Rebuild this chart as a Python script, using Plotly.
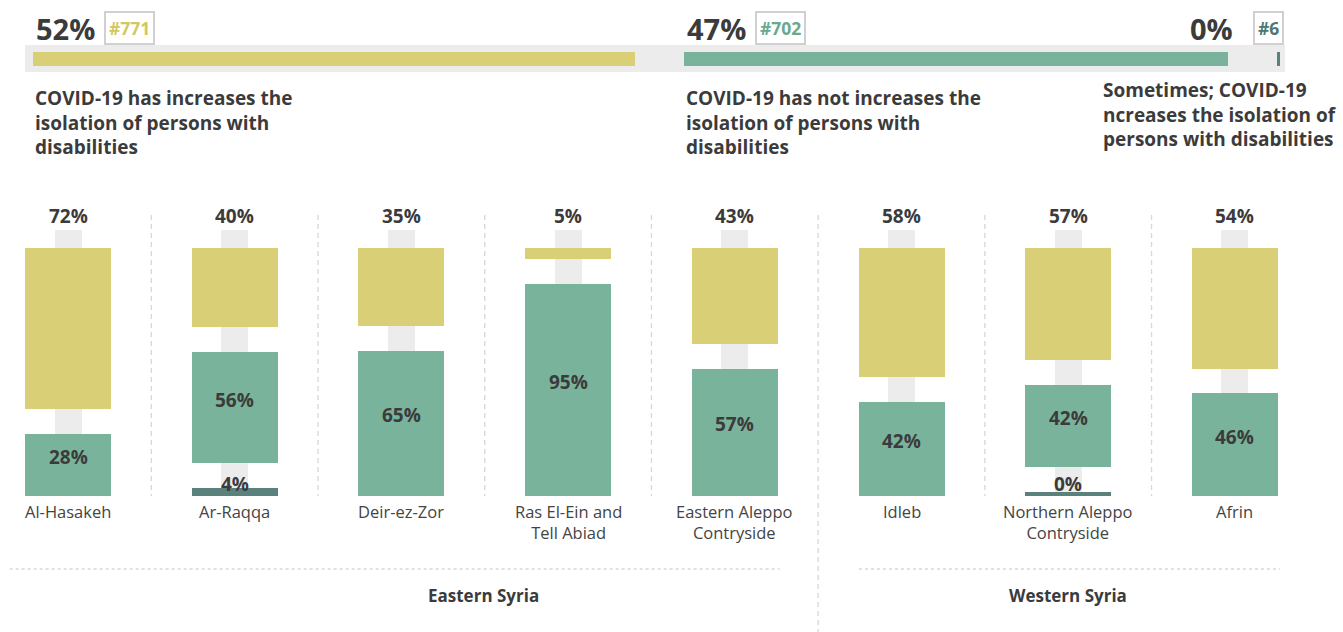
import plotly.graph_objects as go

# ---- overall answers (top strip) ----
answer_labels = [
    "COVID-19 has increases the<br>isolation of persons with<br>disabilities",
    "COVID-19 has not increases the<br>isolation of persons with<br>disabilities",
    "Sometimes; COVID-19<br>ncreases the isolation of<br>persons with disabilities",
]
answer_pct = [52, 47, 0]
answer_count = [771, 702, 6]

# ---- breakdown by area ----
areas = [
    "Al-Hasakeh", "Ar-Raqqa", "Deir-ez-Zor", "Ras El-Ein and<br>Tell Abiad",
    "Eastern Aleppo<br>Contryside", "Idleb", "Northern Aleppo<br>Contryside", "Afrin",
]
pct_yes = [72, 40, 35, 5, 43, 58, 57, 54]
pct_no = [28, 56, 65, 95, 57, 42, 42, 46]
pct_sometimes = [None, 4, None, None, None, None, 0, None]

regions = ["Eastern Syria", "Western Syria"]
region_of_area = [0, 0, 0, 0, 0, 1, 1, 1]

# ---- styling ----
W, H = 1343, 632
YELLOW = "#d9cf77"
GREEN = "#79b39c"
DARK = "#5b817c"
STRIP = "#ececec"
TEXT = "#3b3b3b"
FONT = "Open Sans"
answer_colors = [YELLOW, GREEN, DARK]
badge_colors = ["#d2c765", "#6aa98f", "#4f7874"]

fig = go.Figure()

# Panel axes: one unit in x = one area column, y in percent of the column height
PX0, PXSTEP = 68, 166.7          # centre of first column, column pitch (px)
PY0, PYUNIT = 248, 2.48          # top of stack (px), px per percent
xr = [(0 - PX0) / PXSTEP, (W - PX0) / PXSTEP]
yr = [(H - PY0) / PYUNIT, (0 - PY0) / PYUNIT]   # reversed: 0 at top


def ypx(px):
    return (px - PY0) / PYUNIT


BAR_W = 86 / PXSTEP
STRIP_W = 27 / PXSTEP
GAP = 10.0       # gap between stacked pieces (percent units)
MIN_H = 2.0      # smallest visible piece

idx = list(range(len(areas)))

# light guide strip behind each column
fig.add_trace(go.Bar(
    x=idx, y=[100 - ypx(230)] * len(idx), base=[ypx(230)] * len(idx),
    width=STRIP_W, marker=dict(color=STRIP, line=dict(width=0)),
    hoverinfo="skip", showlegend=False, xaxis="x", yaxis="y",
))

seg_x = {0: [], 1: [], 2: []}
seg_base = {0: [], 1: [], 2: []}
seg_h = {0: [], 1: [], 2: []}
annots = []

for i in idx:
    vals = [pct_yes[i], pct_no[i]]
    if pct_sometimes[i] is not None:
        vals.append(pct_sometimes[i])
    disp = [max(v, MIN_H) for v in vals]
    k = (100 - GAP * (len(vals) - 1)) / sum(disp)
    top = 0.0
    for s, d in enumerate(disp):
        h = d * k
        seg_x[s].append(i)
        seg_base[s].append(top)
        seg_h[s].append(h)
        if s == 1:
            annots.append(dict(
                x=i, y=top + h / 2, xref="x", yref="y", yshift=8,
                text=f"<b>{vals[s]}%</b>", showarrow=False,
                font=dict(family=FONT, size=19, color=TEXT),
            ))
        if s == 2:
            annots.append(dict(
                x=i, y=top + h, xref="x", yref="y", yanchor="bottom",
                text=f"<b>{vals[s]}%</b>", showarrow=False, yshift=-3,
                font=dict(family=FONT, size=19, color=TEXT),
            ))
        top += h + GAP
    annots.append(dict(
        x=i, y=ypx(216), xref="x", yref="y", text=f"<b>{pct_yes[i]}%</b>",
        showarrow=False, font=dict(family=FONT, size=19, color=TEXT),
    ))
    annots.append(dict(
        x=i, y=ypx(498), xref="x", yref="y", yanchor="top", text=areas[i],
        showarrow=False, font=dict(family=FONT, size=16.5, color="#444444"),
    ))

for s, col in enumerate(answer_colors):
    fig.add_trace(go.Bar(
        x=seg_x[s], y=seg_h[s], base=seg_base[s], width=BAR_W,
        marker=dict(color=col, line=dict(width=0)),
        hoverinfo="skip", showlegend=False, xaxis="x", yaxis="y",
    ))

# ---- top strip on its own axes ----
TX0, TXUNIT = 33, 12.47          # left of strip (px), px per unit
x2r = [(0 - TX0) / TXUNIT, (W - TX0) / TXUNIT]
TGAP = 3.9
TMIN = 0.25
n_zero = sum(1 for p in answer_pct if p <= 0)
kt = (100 - TGAP * (len(answer_pct) - 1) - TMIN * n_zero) / sum(answer_pct)
t_base, t_w = [], []
pos = 0.0
for p in answer_pct:
    w = p * kt if p > 0 else TMIN
    t_base.append(pos)
    t_w.append(w)
    pos += w + TGAP

fig.add_trace(go.Bar(
    x=[(1285 - 25) / TXUNIT], base=[(25 - TX0) / TXUNIT], y=[0], orientation="h",
    width=1.0, marker=dict(color=STRIP, line=dict(width=0)),
    hoverinfo="skip", showlegend=False, xaxis="x2", yaxis="y2",
))
for j in range(len(answer_pct)):
    fig.add_trace(go.Bar(
        x=[t_w[j]], base=[t_base[j]], y=[0], orientation="h", width=14 / 27,
        marker=dict(color=answer_colors[j], line=dict(width=0)),
        hoverinfo="skip", showlegend=False, xaxis="x2", yaxis="y2",
    ))


def pap_y(px):
    return 1 - px / H


badge_style = dict(bordercolor="#d0d0d0", borderwidth=2, borderpad=3, bgcolor="white")
last = len(answer_pct) - 1
for j in range(len(answer_pct)):
    pct_txt = f"<b>{answer_pct[j]}%</b>"
    badge = f"<b>#{answer_count[j]}</b>"
    if j < last:
        annots.append(dict(x=t_base[j], xref="x2", y=pap_y(28), yref="paper",
                           xanchor="left", yanchor="middle", xshift=1, text=pct_txt,
                           showarrow=False, font=dict(family=FONT, size=29, color=TEXT)))
        annots.append(dict(x=t_base[j], xref="x2", y=pap_y(28), yref="paper",
                           xanchor="left", yanchor="middle", xshift=71, text=badge,
                           showarrow=False,
                           font=dict(family=FONT, size=17.5, color=badge_colors[j]),
                           **badge_style))
        annots.append(dict(x=t_base[j], xref="x2", y=pap_y(83), yref="paper",
                           xanchor="left", yanchor="top", align="left",
                           text=f"<b>{answer_labels[j]}</b>", showarrow=False,
                           font=dict(family=FONT, size=19, color=TEXT)))
    else:
        end = t_base[j] + t_w[j]
        annots.append(dict(x=end, xref="x2", y=pap_y(28), yref="paper",
                           xanchor="right", yanchor="middle", xshift=4, text=badge,
                           showarrow=False,
                           font=dict(family=FONT, size=17.5, color=badge_colors[j]),
                           **badge_style))
        annots.append(dict(x=end, xref="x2", y=pap_y(28), yref="paper",
                           xanchor="right", yanchor="middle", xshift=-45, text=pct_txt,
                           showarrow=False, font=dict(family=FONT, size=29, color=TEXT)))
        annots.append(dict(x=1101 / W, xref="paper", y=pap_y(75), yref="paper",
                           xanchor="left", yanchor="top", align="left",
                           text=f"<b>{answer_labels[j]}</b>", showarrow=False,
                           font=dict(family=FONT, size=19, color=TEXT)))

# ---- separators and region labels ----
shapes = []
for i in idx[:-1]:
    crosses_region = region_of_area[i] != region_of_area[i + 1]
    shapes.append(dict(
        type="line", xref="x", yref="y", x0=i + 0.5, x1=i + 0.5,
        y0=ypx(215), y1=yr[0] if crosses_region else ypx(496),
        line=dict(color="#d8d8d8", width=1.3, dash="5px,4px"),
    ))

region_span = [(-0.35, 4.27), (4.745, 7.27)]
region_label_x = [2.49, 6.0]
for r, name in enumerate(regions):
    shapes.append(dict(
        type="line", xref="x", yref="y", x0=region_span[r][0], x1=region_span[r][1],
        y0=ypx(569), y1=ypx(569), line=dict(color="#d8d8d8", width=1.3, dash="3px,3px"),
    ))
    annots.append(dict(x=region_label_x[r], y=ypx(595), xref="x", yref="y",
                       text=f"<b>{name}</b>", showarrow=False,
                       font=dict(family=FONT, size=17, color=TEXT)))

hidden = dict(showgrid=False, zeroline=False, showticklabels=False,
              showline=False, ticks="", fixedrange=True)

fig.update_layout(
    width=W, height=H, margin=dict(l=0, r=0, t=0, b=0),
    paper_bgcolor="white", plot_bgcolor="rgba(0,0,0,0)",
    barmode="overlay", bargap=0, showlegend=False,
    xaxis=dict(domain=[0, 1], range=xr, anchor="y", **hidden),
    yaxis=dict(domain=[0, 1], range=yr, anchor="x", **hidden),
    xaxis2=dict(domain=[0, 1], range=x2r, anchor="y2", **hidden),
    yaxis2=dict(domain=[pap_y(72), pap_y(45)], range=[-0.5, 0.5], anchor="x2", **hidden),
    shapes=shapes, annotations=annots,
    font=dict(family=FONT, color=TEXT),
)

fig.write_html("out.html", config={"displayModeBar": False})
